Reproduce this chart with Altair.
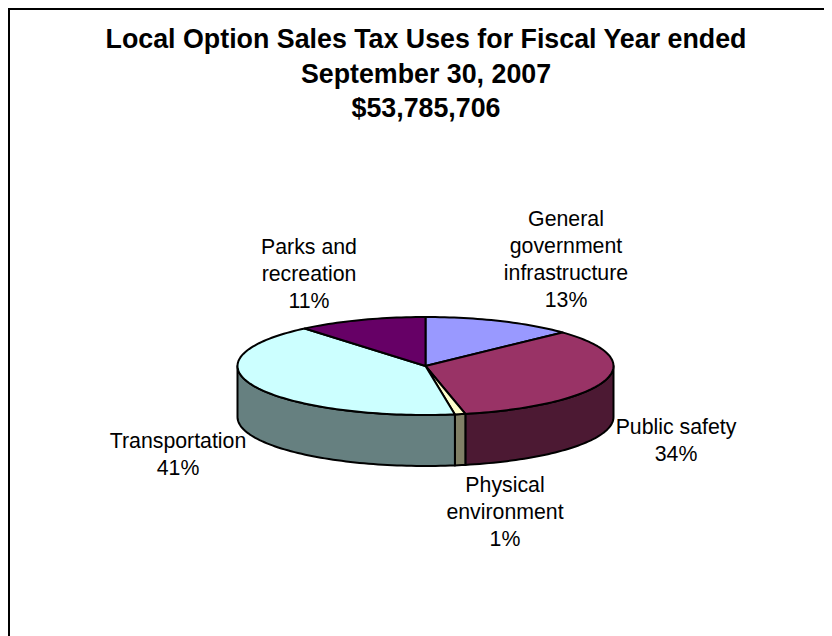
import numpy as np
import altair as alt

# ---- data ----
TITLE = "Local Option Sales Tax Uses for Fiscal Year ended\nSeptember 30, 2007\n$53,785,706"
categories = ["General\ngovernment\ninfrastructure", "Public safety", "Physical\nenvironment",
              "Transportation", "Parks and\nrecreation"]
shares = [13.0, 33.6, 0.9, 41.4, 11.1]
top_colors = ["#9999FF", "#993366", "#FFFFCC", "#CCFFFF", "#660066"]
side_colors = ["#4C4C80", "#4C1933", "#808066", "#668080", "#330033"]

# ---- layout (page pixels minus the 8px body margin) ----
OX, OY = 8, 8
CX, CY, RX, RY, DEPTH = 425.5 - OX, 366 - OY, 188, 49, 51
label_xy = [(566, 226), (676, 434), (505, 492), (178, 448), (309, 254)]
W, H = 816, 628


def pt(deg, dy=0.0):
    a = np.radians(deg)
    return [float(CX + RX * np.sin(a)), float(CY - RY * np.cos(a) + dy)]


def arc(a, b, dy=0.0):
    n = max(2, int(abs(b - a) / 1.5) + 2)
    return [pt(d, dy) for d in np.linspace(a, b, n)]


edges = np.concatenate([[0.0], np.cumsum(shares)]) / sum(shares) * 360.0

walls, tops = [], []
for i, cat in enumerate(categories):
    a, b = float(edges[i]), float(edges[i + 1])
    ring = [[float(CX), float(CY)]] + arc(a, b) + [[float(CX), float(CY)]]
    tops.append({"type": "Feature", "properties": {"fill": top_colors[i]},
                 "geometry": {"type": "Polygon", "coordinates": [ring]}})
    lo, hi = max(a, 90.0), min(b, 270.0)
    if hi > lo:
        upper = arc(lo, hi)
        lower = arc(hi, lo, DEPTH)
        walls.append({"type": "Feature", "properties": {"fill": side_colors[i]},
                      "geometry": {"type": "Polygon", "coordinates": [upper + lower + [upper[0]]]}})


def shapes(features):
    return alt.Chart(alt.Data(values=features)).mark_geoshape(
        stroke="#000000", strokeWidth=2, strokeJoin="round"
    ).encode(fill=alt.Fill("properties.fill:N", scale=None)).project(
        type="identity", scale=1, translate=[0, 0]
    )


FONT = "Liberation Sans"
label_rows = [
    {"t": f"{c}\n{round(s)}%", "x": x - OX, "y": y - OY}
    for c, s, (x, y) in zip(categories, shares, label_xy)
]
labels = alt.Chart(alt.Data(values=label_rows)).mark_text(
    font=FONT, fontSize=21.3, lineBreak="\n", lineHeight=27, align="center", baseline="alphabetic",
    color="#000000"
).encode(
    x=alt.X("x:Q", scale=alt.Scale(domain=[0, W], range=[0, W]), axis=None),
    y=alt.Y("y:Q", scale=alt.Scale(domain=[0, H], range=[0, H]), axis=None),
    text="t:N",
)

title = alt.Chart(alt.Data(values=[{"t": TITLE}])).mark_text(
    font=FONT, fontSize=26.8, fontWeight="bold", lineBreak="\n", lineHeight=34.7, align="center",
    baseline="alphabetic", color="#000000"
).encode(x=alt.value(426 - OX), y=alt.value(48 - OY), text="t:N")

frame_top = alt.Chart(alt.Data(values=[{"k": 1}])).mark_rule(color="#000000", strokeWidth=2).encode(
    x=alt.value(1), x2=alt.value(W), y=alt.value(1))
frame_left = alt.Chart(alt.Data(values=[{"k": 1}])).mark_rule(color="#000000", strokeWidth=2).encode(
    x=alt.value(1), y=alt.value(0), y2=alt.value(H))

chart = alt.layer(frame_top, frame_left, shapes(walls), shapes(tops), labels, title).properties(
    width=W, height=H, padding=0, autosize=alt.AutoSizeParams(type="none")
).configure_view(stroke=None).resolve_scale(x="independent", y="independent")

chart.save("out.html", embed_options={"renderer": "svg", "actions": False})
